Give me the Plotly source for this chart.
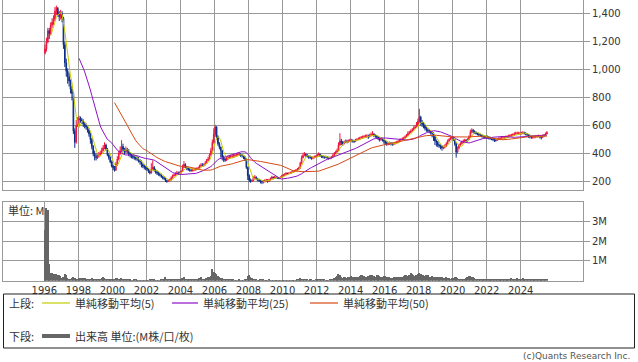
import pandas as pd
import plotly.graph_objects as go

# ---------------- data (monthly, Jan 1996 .. Jul 2025) ----------------
close = [
    1150, 1200, 1280, 1260, 1320, 1340, 1360, 1420, 1440, 1400, 1380, 1400,  # 1996
    1370, 1180, 1050, 990, 950, 920, 860, 830, 560, 480, 600, 640,  # 1997
    650, 640, 630, 610, 600, 590, 570, 540, 500, 450, 400, 380,  # 1998
    370, 380, 390, 400, 420, 440, 460, 430, 390, 370, 340, 310,  # 1999
    300, 280, 320, 360, 400, 420, 450, 430, 410, 430, 420, 400,  # 2000
    390, 380, 375, 370, 365, 360, 350, 340, 320, 310, 300, 295,  # 2001
    290, 270, 260, 290, 300, 280, 265, 260, 250, 245, 235, 225,  # 2002
    220, 205, 200, 205, 210, 225, 240, 245, 255, 260, 255, 262,  # 2003
    270, 300, 320, 305, 295, 285, 280, 278, 280, 282, 285, 290,  # 2004
    295, 310, 316, 315, 318, 330, 350, 360, 390, 420, 480, 540,  # 2005
    590, 520, 470, 445, 420, 375, 360, 352, 360, 370, 375, 378,  # 2006
    378, 380, 385, 390, 392, 395, 390, 385, 375, 360, 300, 240,  # 2007
    210, 200, 205, 225, 230, 220, 210, 205, 200, 195, 200, 205,  # 2008
    210, 200, 210, 220, 230, 225, 230, 228, 225, 223, 230, 240,  # 2009
    245, 250, 258, 255, 258, 262, 265, 270, 275, 280, 288, 295,  # 2010
    330, 370, 385, 395, 390, 380, 375, 372, 366, 370, 375, 378,  # 2011
    390, 395, 385, 378, 375, 372, 375, 370, 366, 368, 372, 385,  # 2012
    400, 410, 420, 460, 490, 480, 470, 480, 490, 485, 490, 495,  # 2013
    495, 490, 485, 495, 500, 505, 510, 515, 517, 520, 525, 525,  # 2014
    520, 530, 535, 540, 530, 525, 520, 510, 500, 505, 500, 490,  # 2015
    480, 465, 470, 475, 470, 465, 470, 475, 480, 485, 495, 500,  # 2016
    505, 510, 520, 530, 545, 550, 560, 570, 580, 590, 600, 630,  # 2017
    660, 620, 610, 600, 580, 570, 565, 560, 550, 545, 520, 490,  # 2018
    480, 460, 455, 450, 440, 445, 450, 470, 490, 500, 510, 515,  # 2019
    500, 470, 410, 440, 460, 470, 480, 490, 495, 490, 500, 520,  # 2020
    555, 565, 560, 550, 545, 540, 535, 530, 525, 520, 518, 517,  # 2021
    517, 512, 509, 505, 500, 495, 495, 500, 505, 507, 509, 512,  # 2022
    515, 518, 520, 525, 528, 530, 535, 540, 545, 545, 545, 545,  # 2023
    545, 548, 545, 540, 535, 525, 520, 515, 517, 518, 520, 522,  # 2024
    525, 520, 515, 525, 530, 540, 550,  # 2025
]
high = [
    1180, 1230, 1300, 1300, 1340, 1370, 1390, 1450, 1460, 1450, 1420, 1430,
    1420, 1380, 1200, 1080, 1010, 980, 930, 880, 840, 580, 640, 660,
    670, 665, 655, 645, 625, 615, 600, 580, 550, 510, 460, 420,
    400, 400, 410, 420, 440, 460, 480, 470, 440, 400, 380, 350,
    320, 310, 340, 380, 420, 450, 495, 470, 440, 450, 440, 430,
    410, 400, 395, 390, 385, 380, 375, 360, 350, 330, 320, 310,
    305, 295, 280, 330, 350, 310, 290, 280, 270, 260, 255, 240,
    235, 225, 210, 215, 220, 235, 250, 255, 265, 275, 270, 272,
    280, 320, 345, 330, 310, 300, 295, 290, 292, 295, 298, 300,
    305, 320, 330, 330, 330, 345, 360, 375, 400, 440, 500, 580,
    605, 595, 530, 480, 450, 425, 385, 370, 375, 385, 390, 392,
    392, 395, 398, 402, 405, 408, 402, 395, 390, 380, 365, 305,
    250, 220, 215, 235, 245, 235, 225, 215, 210, 205, 210, 215,
    218, 215, 218, 228, 240, 235, 238, 236, 232, 230, 236, 248,
    252, 258, 265, 262, 265, 270, 272, 278, 282, 288, 296, 305,
    340, 385, 405, 410, 400, 395, 385, 385, 378, 380, 385, 388,
    400, 408, 398, 390, 385, 382, 385, 380, 376, 378, 382, 398,
    410, 420, 435, 480, 545, 505, 490, 492, 500, 498, 500, 505,
    505, 500, 498, 505, 510, 515, 520, 525, 528, 532, 535, 538,
    535, 542, 550, 560, 545, 538, 532, 525, 515, 515, 512, 505,
    495, 485, 480, 485, 482, 478, 480, 485, 490, 495, 505, 510,
    515, 520, 530, 540, 560, 562, 572, 582, 595, 605, 625, 650,
    720, 670, 640, 625, 610, 590, 580, 575, 568, 560, 550, 525,
    500, 490, 470, 465, 460, 455, 465, 480, 500, 510, 520, 525,
    520, 505, 475, 450, 470, 480, 492, 500, 505, 502, 510, 530,
    570, 580, 575, 565, 558, 552, 548, 542, 538, 532, 528, 528,
    528, 525, 520, 515, 512, 508, 505, 510, 515, 518, 520, 522,
    525, 528, 530, 535, 538, 540, 545, 552, 556, 556, 555, 555,
    555, 560, 556, 552, 546, 538, 532, 526, 526, 528, 530, 532,
    535, 532, 526, 535, 540, 550, 560,
]
low = [
    1110, 1130, 1190, 1220, 1250, 1300, 1320, 1350, 1390, 1380, 1350, 1360,
    1340, 1150, 1020, 950, 900, 880, 830, 780, 540, 440, 470, 590,
    600, 620, 610, 590, 580, 570, 550, 520, 470, 430, 380, 350,
    350, 360, 370, 380, 395, 415, 430, 420, 380, 355, 330, 300,
    280, 270, 275, 310, 350, 390, 410, 410, 390, 400, 400, 380,
    370, 365, 360, 355, 350, 345, 335, 320, 300, 295, 285, 280,
    275, 260, 250, 255, 280, 270, 255, 245, 240, 235, 225, 215,
    210, 195, 190, 195, 200, 205, 220, 235, 240, 248, 245, 250,
    255, 268, 295, 295, 280, 275, 270, 268, 270, 272, 275, 280,
    285, 290, 305, 305, 305, 315, 328, 345, 355, 385, 415, 470,
    520, 500, 455, 430, 370, 350, 340, 340, 345, 355, 362, 365,
    365, 368, 372, 378, 380, 382, 375, 370, 360, 345, 290, 210,
    195, 190, 195, 200, 218, 208, 200, 195, 185, 180, 185, 192,
    195, 190, 195, 205, 215, 215, 220, 220, 218, 215, 220, 228,
    235, 240, 248, 246, 250, 254, 256, 262, 266, 272, 278, 285,
    292, 325, 365, 380, 375, 370, 362, 360, 355, 358, 365, 368,
    375, 385, 375, 368, 365, 362, 365, 360, 356, 358, 362, 370,
    382, 395, 405, 418, 455, 460, 455, 465, 475, 472, 478, 482,
    480, 478, 475, 482, 490, 495, 498, 505, 505, 510, 512, 512,
    505, 515, 522, 528, 518, 512, 508, 495, 485, 490, 485, 470,
    460, 455, 458, 462, 458, 455, 458, 465, 470, 475, 482, 490,
    495, 500, 505, 518, 525, 538, 545, 555, 565, 575, 585, 595,
    620, 600, 590, 580, 565, 555, 550, 545, 535, 515, 490, 460,
    450, 445, 440, 430, 420, 430, 435, 445, 465, 485, 495, 500,
    490, 455, 370, 400, 430, 455, 465, 475, 482, 478, 485, 498,
    515, 545, 545, 540, 535, 530, 525, 520, 515, 510, 508, 505,
    505, 500, 498, 495, 488, 482, 484, 490, 495, 497, 498, 500,
    505, 508, 510, 515, 518, 520, 525, 530, 535, 535, 535, 535,
    535, 538, 535, 530, 522, 512, 508, 505, 506, 508, 510, 512,
    515, 508, 500, 510, 520, 528, 538,
]
first_open = 1120
volume_m = [
    2.6, 3.7, 3.6, 0.85, 0.4, 0.4, 0.38, 0.35, 0.35, 0.32, 0.3, 0.25,
    0.15, 0.2, 0.34, 0.3, 0.15, 0.12, 0.12, 0.15, 0.18, 0.15, 0.12, 0.12,
    0.15, 0.14, 0.16, 0.17, 0.15, 0.12, 0.1, 0.1, 0.12, 0.14, 0.1, 0.08,
    0.08, 0.08, 0.1, 0.12, 0.15, 0.18, 0.15, 0.12, 0.1, 0.08, 0.08, 0.1,
    0.1, 0.12, 0.15, 0.15, 0.12, 0.1, 0.15, 0.12, 0.08, 0.08, 0.06, 0.06,
    0.06, 0.05, 0.05, 0.06, 0.06, 0.05, 0.05, 0.05, 0.05, 0.04, 0.04, 0.05,
    0.05, 0.05, 0.06, 0.1, 0.08, 0.06, 0.05, 0.05, 0.05, 0.05, 0.06, 0.06,
    0.08, 0.2, 0.12, 0.08, 0.06, 0.08, 0.1, 0.08, 0.1, 0.12, 0.1, 0.1,
    0.1, 0.15, 0.2, 0.12, 0.1, 0.1, 0.12, 0.1, 0.08, 0.1, 0.12, 0.1,
    0.1, 0.15, 0.2, 0.12, 0.12, 0.1, 0.15, 0.18, 0.2, 0.25, 0.6, 0.45,
    0.4, 0.35, 0.25, 0.2, 0.15, 0.15, 0.12, 0.12, 0.1, 0.1, 0.08, 0.08,
    0.06, 0.06, 0.05, 0.05, 0.05, 0.06, 0.05, 0.05, 0.05, 0.06, 0.12, 0.25,
    0.3, 0.2, 0.15, 0.1, 0.08, 0.06, 0.05, 0.05, 0.06, 0.08, 0.06, 0.05,
    0.05, 0.05, 0.06, 0.05, 0.05, 0.05, 0.04, 0.04, 0.05, 0.05, 0.04, 0.05,
    0.05, 0.05, 0.05, 0.04, 0.05, 0.05, 0.04, 0.04, 0.05, 0.05, 0.06, 0.08,
    0.15, 0.12, 0.1, 0.08, 0.06, 0.06, 0.05, 0.06, 0.06, 0.05, 0.05, 0.06,
    0.06, 0.08, 0.1, 0.12, 0.08, 0.06, 0.05, 0.05, 0.05, 0.06, 0.08, 0.1,
    0.15, 0.2, 0.25, 0.34, 0.3, 0.2, 0.15, 0.18, 0.2, 0.15, 0.2, 0.22,
    0.24, 0.2, 0.18, 0.2, 0.22, 0.2, 0.25, 0.3, 0.28, 0.25, 0.22, 0.2,
    0.25, 0.3, 0.28, 0.3, 0.25, 0.22, 0.28, 0.3, 0.25, 0.22, 0.2, 0.25,
    0.25, 0.2, 0.18, 0.2, 0.15, 0.15, 0.18, 0.2, 0.22, 0.18, 0.2, 0.22,
    0.2, 0.25, 0.3, 0.28, 0.25, 0.3, 0.4, 0.35, 0.3, 0.25, 0.3, 0.35,
    0.4, 0.35, 0.3, 0.3, 0.25, 0.3, 0.28, 0.22, 0.2, 0.25, 0.2, 0.2,
    0.2, 0.18, 0.2, 0.22, 0.2, 0.15, 0.15, 0.18, 0.15, 0.15, 0.12, 0.15,
    0.15, 0.18, 0.2, 0.15, 0.12, 0.12, 0.12, 0.1, 0.12, 0.15, 0.2, 0.25,
    0.25, 0.22, 0.18, 0.15, 0.12, 0.12, 0.1, 0.1, 0.1, 0.1, 0.08, 0.1,
    0.1, 0.1, 0.1, 0.08, 0.08, 0.08, 0.08, 0.08, 0.08, 0.1, 0.1, 0.1,
    0.1, 0.1, 0.12, 0.1, 0.12, 0.15, 0.12, 0.1, 0.12, 0.15, 0.12, 0.1,
    0.12, 0.15, 0.12, 0.1, 0.1, 0.12, 0.1, 0.08, 0.08, 0.08, 0.08, 0.08,
    0.08, 0.08, 0.1, 0.1, 0.08, 0.08, 0.08,
]
tick_years = list(range(1996, 2025, 2))
price_ticks = [200, 400, 600, 800, 1000, 1200, 1400]
volume_ticks = [1, 2, 3]
volume_tick_labels = ["1M", "2M", "3M"]
ma_periods = [5, 25, 50]
ma_labels = ["単純移動平均(5)", "単純移動平均(25)", "単純移動平均(50)"]

# ---------------- derived ----------------
months = pd.date_range("1996-01-01", periods=len(close), freq="MS")
opens = [first_open] + close[:-1]
closes_s = pd.Series(close, dtype=float)

W, H = 638, 362
def px(x):
    return x / W
def py(y):
    return 1 - y / H

RED = "#f0143c"
NAVY = "#0c2d8a"
MA_COLORS = ["#c4cc00", "#8e10c8", "#d84a14"]
GRID = "#999999"
TXT = "#333333"

fig = go.Figure()
fig.add_trace(go.Candlestick(
    x=months, open=opens, high=high, low=low, close=close,
    xperiod="M1", xperiodalignment="middle",
    increasing=dict(line=dict(color=RED, width=1), fillcolor=RED),
    decreasing=dict(line=dict(color=NAVY, width=1), fillcolor=NAVY),
    whiskerwidth=0, xaxis="x", yaxis="y", hoverinfo="skip",
))
for p, c in zip(ma_periods, MA_COLORS):
    fig.add_trace(go.Scatter(
        x=months, y=closes_s.rolling(p).mean(), mode="lines",
        xperiod="M1", xperiodalignment="middle",
        line=dict(color=c, width=1), xaxis="x", yaxis="y", hoverinfo="skip",
    ))
fig.add_trace(go.Bar(
    x=months, y=volume_m, xperiod="M1", xperiodalignment="middle",
    marker=dict(color="#666666", line=dict(width=0)),
    xaxis="x2", yaxis="y2", hoverinfo="skip",
))

xr = ["1993-07-28", "2027-08-30"]
tickvals_x = [f"{y}-01-01" for y in tick_years]
axis_common = dict(showgrid=True, gridcolor=GRID, gridwidth=1, zeroline=False,
                   showline=True, mirror=True, linecolor=GRID, linewidth=1)

fig.update_layout(
    template="none",
    width=W, height=H, margin=dict(l=0, r=0, t=0, b=0, pad=0),
    paper_bgcolor="white", plot_bgcolor="white", showlegend=False,
    font=dict(family="DejaVu Sans", size=10, color=TXT),
    bargap=0,
    xaxis=dict(domain=[px(3), px(583)], range=xr, anchor="y",
               tickmode="array", tickvals=tickvals_x, showticklabels=False,
               ticks="", rangeslider=dict(visible=False), **axis_common),
    xaxis2=dict(domain=[px(3), px(583)], range=xr, anchor="y2", matches="x",
                tickmode="array", tickvals=tickvals_x,
                ticktext=[str(y) for y in tick_years],
                ticks="", **axis_common),
    yaxis=dict(domain=[py(190), py(0)], range=[138, 1500], side="right",
               anchor="x", tickmode="array", tickvals=price_ticks,
               ticktext=[f"{v:,}" for v in price_ticks],
               ticks="outside", ticklen=6, tickcolor=GRID, **axis_common),
    yaxis2=dict(domain=[py(280.7), py(201.7)], range=[0, 4], side="right",
                anchor="x2", tickmode="array", tickvals=volume_ticks,
                ticktext=volume_tick_labels,
                ticks="outside", ticklen=6, tickcolor=GRID, **axis_common),
)

CJK = "Noto Sans CJK JP"
ann = []
def text(x, y, s, size=11, anchor="left", color=TXT, family=CJK):
    ann.append(dict(x=px(x), y=py(y), xref="paper", yref="paper", text=s,
                    showarrow=False, xanchor=anchor, yanchor="middle",
                    font=dict(family=family, size=size, color=color)))

text(6, 209.5, "単位: M")
shapes = [dict(type="rect", xref="paper", yref="paper",
               x0=px(3.5), x1=px(634.5), y0=py(294), y1=py(348),
               line=dict(color="#222222", width=1))]

text(7, 303, "上段:")
leg_x = [(42, 70, 73), (172, 198, 201), (310, 338, 341)]
for (a, b, t), c, lab in zip(leg_x, MA_COLORS, ma_labels):
    shapes.append(dict(type="line", xref="paper", yref="paper",
                       x0=px(a), x1=px(b), y0=py(303), y1=py(303),
                       line=dict(color=c, width=1.2)))
    text(t, 303, lab)
text(7, 336, "下段:")
shapes.append(dict(type="line", xref="paper", yref="paper",
                   x0=px(42), x1=px(70), y0=py(336), y1=py(336),
                   line=dict(color="#666666", width=4)))
text(73, 336, "出来高 単位:(M株/口/枚)")
text(632, 355.5, "(c)Quants Research Inc.", size=9, anchor="right",
     color="#555555", family="DejaVu Sans")

fig.update_layout(annotations=ann, shapes=shapes)
fig.write_html(
    "out.html",
    config={"displayModeBar": False},
    post_script="document.body.style.margin='0';document.body.style.padding='0';document.body.style.overflow='hidden';",
)
